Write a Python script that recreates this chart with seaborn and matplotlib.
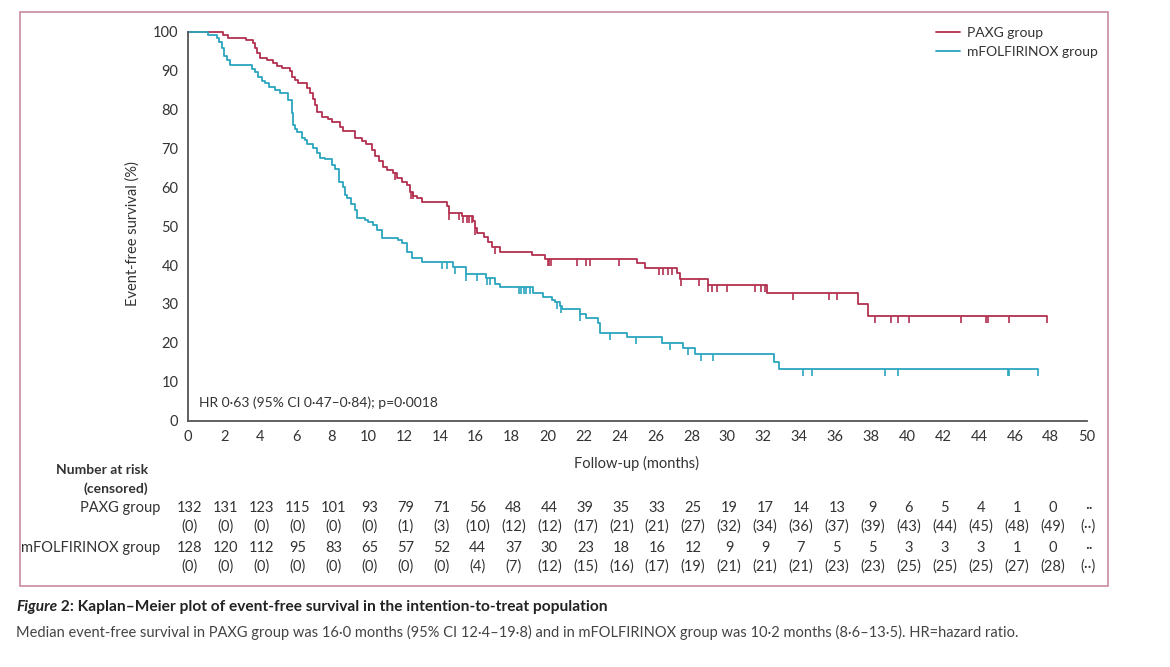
import numpy as np
import pandas as pd
import matplotlib
matplotlib.use("Agg")
import matplotlib.pyplot as plt
import matplotlib.transforms as mtransforms
from matplotlib.patches import Rectangle
import seaborn as sns

# step points of the Kaplan-Meier curves (months, % event-free)
paxg_t = [0, 1.95, 2.23, 3.2, 3.59, 3.72, 3.85, 4.0, 4.4, 4.7, 4.92, 5.2, 5.66, 5.76, 5.94,
          6.13, 6.59, 6.78, 6.93, 7.06, 7.15, 7.43, 7.8, 7.99, 8.45, 8.63, 9.28, 9.65, 9.9,
          10.21, 10.4, 10.64, 10.86, 11.05, 11.41, 11.6, 11.88, 12.16, 12.34, 12.53, 12.72,
          12.99, 14.38, 14.53, 15.22, 15.87, 15.96, 16.05, 16.46, 16.7, 16.89, 17.35, 19.11,
          19.85, 24.99, 25.42, 27.18, 27.37, 28.94, 32.19, 37.29, 37.81, 47.81]
paxg_s = [100, 99.2, 98.5, 97.9, 97.0, 95.9, 94.4, 93.2, 92.7, 91.9, 91.3, 90.6, 90.0, 88.4, 87.6,
          86.7, 85.4, 84.2, 82.7, 81.2, 79.3, 78.1, 77.5, 76.7, 75.6, 74.5, 72.6, 71.9, 71.0,
          69.6, 68.1, 66.8, 65.3, 64.4, 63.6, 62.3, 61.4, 60.6, 58.9, 57.8, 57.2,
          56.1, 55.3, 53.4, 52.6, 51.2, 49.4, 48.2, 47.3, 46.0, 44.7, 43.4, 42.6,
          41.5, 40.4, 39.2, 37.9, 36.4, 34.9, 32.7, 30.0, 27.0, 27.0]
paxg_cens = [11.5, 12.4, 12.5, 14.53, 15.09, 15.31, 15.5, 15.64, 15.78, 15.96, 17.07, 20.0, 20.1,
             20.2, 21.62, 22.14, 22.36, 23.99, 26.2, 26.44, 26.72, 26.9, 27.4, 28.4, 28.95, 29.13,
             29.4, 30.0, 31.54, 31.9, 32.1, 33.67, 35.65, 36.09, 38.22, 39.1, 39.52, 40.1, 43.0,
             44.4, 44.5, 45.69, 47.81]

mfol_t = [0, 1.12, 1.59, 1.73, 1.86, 1.99, 2.14, 2.33, 3.53, 3.72, 3.9, 4.09, 4.27, 4.51, 4.83,
          5.11, 5.57, 5.76, 5.85, 5.94, 6.03, 6.32, 6.5, 6.6, 6.96, 7.15, 7.33, 7.61, 7.99, 8.17,
          8.41, 8.63, 8.73, 8.82, 9.04, 9.28, 9.38, 9.84, 10.02, 10.26, 10.52, 10.77, 11.69,
          11.88, 12.16, 12.44, 12.99, 14.72, 15.46, 16.57, 17.07, 17.35, 19.17, 19.73, 20.23,
          20.41, 20.69, 20.78, 21.8, 22.14, 22.82, 22.9, 24.4, 26.35, 27.52, 28.2, 32.6, 32.9, 47.3]
mfol_s = [100, 99.2, 98.4, 97.3, 95.9, 93.8, 92.7, 91.4, 90.4, 89.6, 88.4, 87.3, 86.7, 85.9, 85.0,
          84.2, 82.4, 79.0, 76.0, 75.0, 74.3, 72.7, 72.2, 71.0, 70.0, 68.7, 67.6, 67.2, 65.7, 64.7,
          61.4, 60.1, 58.0, 57.2, 55.6, 54.2, 52.2, 51.6, 51.0, 50.3, 49.0, 47.0, 46.4,
          45.6, 43.4, 41.7, 40.9, 39.6, 37.7, 36.6, 35.0, 34.3, 32.7, 31.9, 31.0,
          30.6, 29.5, 28.6, 27.4, 26.3, 25.0, 22.6, 21.4, 20.0, 18.6, 17.1, 15.1, 13.3, 13.3]
mfol_cens = [14.1, 14.38, 14.85, 15.46, 16.05, 16.61, 16.79, 18.43, 18.5, 18.69, 18.8, 19.0,
             20.5, 20.75, 21.8, 23.5, 24.92, 26.8, 27.83, 28.52, 29.19, 34.2, 34.7, 38.8, 39.52,
             45.6, 45.7, 47.3]

# number at risk table
risk_months = list(range(0, 52, 2))
paxg_risk = ["132", "131", "123", "115", "101", "93", "79", "71", "56", "48", "44", "39", "35",
             "33", "25", "19", "17", "14", "13", "9", "6", "5", "4", "1", "0", "\u00b7\u00b7"]
paxg_cens_n = ["0", "0", "0", "0", "0", "0", "1", "3", "10", "12", "12", "17", "21", "21", "27",
               "32", "34", "36", "37", "39", "43", "44", "45", "48", "49", "\u00b7\u00b7"]
mfol_risk = ["128", "120", "112", "95", "83", "65", "57", "52", "44", "37", "30", "23", "18",
             "16", "12", "9", "9", "7", "5", "5", "3", "3", "3", "1", "0", "\u00b7\u00b7"]
mfol_cens_n = ["0", "0", "0", "0", "0", "0", "0", "0", "4", "7", "12", "15", "16", "17", "19",
               "21", "21", "21", "23", "23", "25", "25", "25", "27", "28", "\u00b7\u00b7"]

red = "#b3304f"
blue = "#2ba6bf"
txt = "#333333"

sns.set_style("white")
plt.rcParams["font.family"] = ["Lato", "DejaVu Sans"]
plt.rcParams["font.size"] = 10

W, H = 1170, 667
fig = plt.figure(figsize=(W / 100, H / 100), dpi=100)
ax = fig.add_axes([188.2 / W, 1 - 420.6 / H, (1086.7 - 188.2) / W, (420.6 - 31.7) / H])


def surv_at(times, surv, t):
    idx = np.searchsorted(times, t, side="right") - 1
    return np.asarray(surv)[idx]


df = pd.concat([
    pd.DataFrame({"t": paxg_t, "s": paxg_s, "group": "PAXG group"}),
    pd.DataFrame({"t": mfol_t, "s": mfol_s, "group": "mFOLFIRINOX group"}),
])
sns.lineplot(data=df, x="t", y="s", hue="group", palette=[red, blue], estimator=None,
             sort=False, drawstyle="steps-post", linewidth=1.3, ax=ax, legend=True)
for line in ax.get_lines():
    line.set_clip_on(False)

tick_down = [(0, 0), (0, -1)]
for times, surv, cens, col in [(paxg_t, paxg_s, paxg_cens, red), (mfol_t, mfol_s, mfol_cens, blue)]:
    ax.plot(cens, surv_at(times, surv, cens), linestyle="none", marker=tick_down,
            markersize=10, markeredgewidth=1.2, color=col, clip_on=False)

ax.set_xlim(0, 50)
ax.set_ylim(0, 100)
ax.set_xticks(risk_months)
ax.set_yticks(range(0, 101, 10))
ax.tick_params(axis="both", direction="out", length=5, width=1.2, color="#555555",
               labelcolor=txt, labelsize=10.5, pad=2)
sns.despine(ax=ax)
for sp in ["left", "bottom"]:
    ax.spines[sp].set_color("#555555")
    ax.spines[sp].set_linewidth(1.3)
ax.set_xlabel("")
ax.set_ylabel("")

fig.text(133 / W, 1 - 234 / H, "Event-free survival (%)", rotation=90, ha="center", va="center",
         color=txt, fontsize=10.5)
fig.text(637 / W, 1 - 463 / H, "Follow-up (months)", ha="center", va="center", color=txt, fontsize=10.5)
ax.text(0.6, 4.5, "HR 0\u00b763 (95% CI 0\u00b747\u20130\u00b784); p=0\u00b70018", ha="left",
        va="center", color=txt, fontsize=10)

leg = ax.legend(loc="upper left", bbox_to_anchor=(936 / W, 1 - 27 / H), bbox_transform=fig.transFigure,
                frameon=False, handlelength=1.7, borderpad=0, borderaxespad=0, labelspacing=0.5,
                handletextpad=0.5, fontsize=10)
for t in leg.get_texts():
    t.set_color(txt)
for h in leg.get_lines():
    h.set_linewidth(1.3)

# risk table
trans = mtransforms.blended_transform_factory(ax.transData, fig.transFigure)
fig.text(148 / W, 1 - 470 / H, "Number at risk", ha="right", va="center", fontweight="bold", color=txt)
fig.text(148 / W, 1 - 489 / H, "(censored)", ha="right", va="center", fontweight="bold", color=txt)
fig.text(160 / W, 1 - 508 / H, "PAXG group", ha="right", va="center", color=txt, fontsize=10.5)
fig.text(160 / W, 1 - 548 / H, "mFOLFIRINOX group", ha="right", va="center", color=txt, fontsize=10.5)
rows = [(paxg_risk, 508, False), (paxg_cens_n, 527, True), (mfol_risk, 548, False), (mfol_cens_n, 567, True)]
for vals, ypx, paren in rows:
    for m, v in zip(risk_months, vals):
        s = f"({v})" if paren else v
        ax.text(m + 0.1, 1 - ypx / H, s, transform=trans, ha="center", va="center", color=txt,
                fontsize=10.5, clip_on=False)

# frame around figure panel
fig.add_artist(Rectangle((19.5 / W, 1 - 586 / H), (1108 - 19.5) / W, (586 - 12) / H,
                         transform=fig.transFigure, fill=False, edgecolor="#c98a9e", linewidth=1.2))

# caption
fig.canvas.draw()
t1 = fig.text(16 / W, 1 - 607 / H, "Figure", ha="left", va="center", fontweight="bold",
              fontstyle="italic", color="#222222", fontsize=11.2)
bb = t1.get_window_extent(fig.canvas.get_renderer())
fig.text(bb.x1 / W, 1 - 607 / H, " 2: Kaplan\u2013Meier plot of event-free survival in the intention-to-treat population",
         ha="left", va="center", fontweight="bold", color="#222222", fontsize=11.2)
fig.text(16 / W, 1 - 632 / H,
         "Median event-free survival in PAXG group was 16\u00b70 months (95% CI 12\u00b74\u201319\u00b78) and in "
         "mFOLFIRINOX group was 10\u00b72 months (8\u00b76\u201313\u00b75). HR=hazard ratio.",
         ha="left", va="center", color="#444444", fontsize=10.5)

fig.savefig("out.png", dpi=100)
